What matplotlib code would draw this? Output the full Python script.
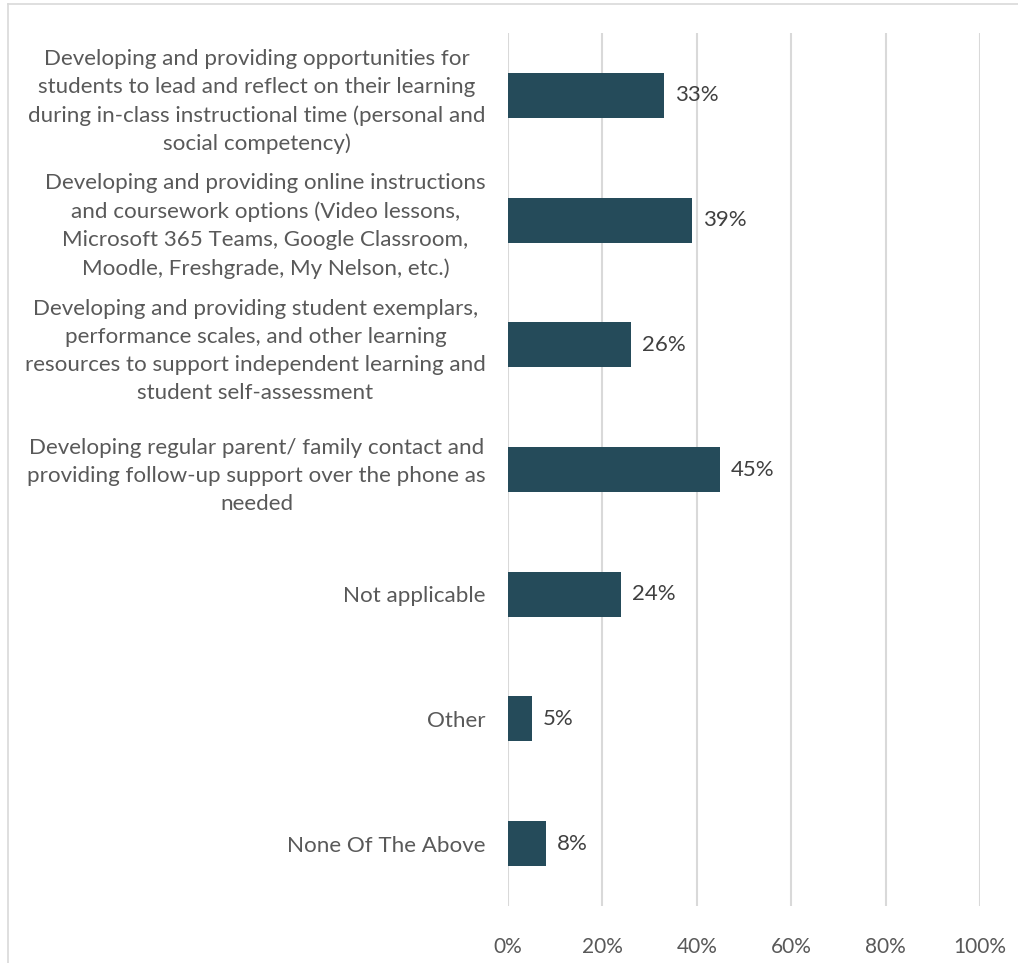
import numpy as np
import matplotlib.pyplot as plt
from matplotlib.lines import Line2D

categories = [
    "Developing and providing opportunities for\nstudents to lead and reflect on their learning\nduring in-class instructional time (personal and\nsocial competency)",
    "Developing and providing online instructions\nand coursework options (Video lessons,\nMicrosoft 365 Teams, Google Classroom,\nMoodle, Freshgrade, My Nelson, etc.)",
    "Developing and providing student exemplars,\nperformance scales, and other learning\nresources to support independent learning and\nstudent self-assessment",
    "Developing regular parent/ family contact and\nproviding follow-up support over the phone as\nneeded",
    "Not applicable",
    "Other",
    "None Of The Above",
]
values = [33, 39, 26, 45, 24, 5, 8]
xticks = [0, 20, 40, 60, 80, 100]

BAR_COLOR = "#254B5A"
TEXT_COLOR = "#595959"
GRID_COLOR = "#D9D9D9"

plt.rcParams["font.family"] = ["Lato", "DejaVu Sans"]

fig = plt.figure(figsize=(10.18, 9.63), dpi=100)
ax = fig.add_axes([508 / 1018, 1 - 906 / 963, 472 / 1018, 873 / 963])

y = np.arange(len(categories))
ax.barh(y, values, height=0.36, color=BAR_COLOR, zorder=3)

for yi, v in zip(y, values):
    ax.text(v + 2.3, yi, f"{v}%", va="center", ha="left",
            fontsize=16, color="#404040", zorder=4)

ax.set_ylim(len(categories) - 0.5, -0.5)
ax.set_xlim(0, 100)
ax.set_yticks(y)
ax.set_yticklabels(categories, fontsize=16.1, color=TEXT_COLOR)
for lbl in ax.get_yticklabels():
    lbl.set_multialignment("center")
    lbl.set_linespacing(1.5)

ax.set_xticks(xticks)
ax.set_xticklabels([f"{t}%" for t in xticks], fontsize=15, color=TEXT_COLOR)
ax.tick_params(axis="y", length=0, pad=16)
ax.tick_params(axis="x", length=0, pad=22)

ax.grid(axis="x", color=GRID_COLOR, linewidth=1.5, zorder=0)
for s in ax.spines.values():
    s.set_visible(False)

# light chart border (left and top edges visible)
fig.add_artist(Line2D([8 / 1018, 8 / 1018], [0, 1 - 4 / 963],
                      transform=fig.transFigure, color=GRID_COLOR, linewidth=1.2))
fig.add_artist(Line2D([8 / 1018, 1], [1 - 4 / 963, 1 - 4 / 963],
                      transform=fig.transFigure, color=GRID_COLOR, linewidth=1.2))

fig.savefig("out.png", dpi=100)
